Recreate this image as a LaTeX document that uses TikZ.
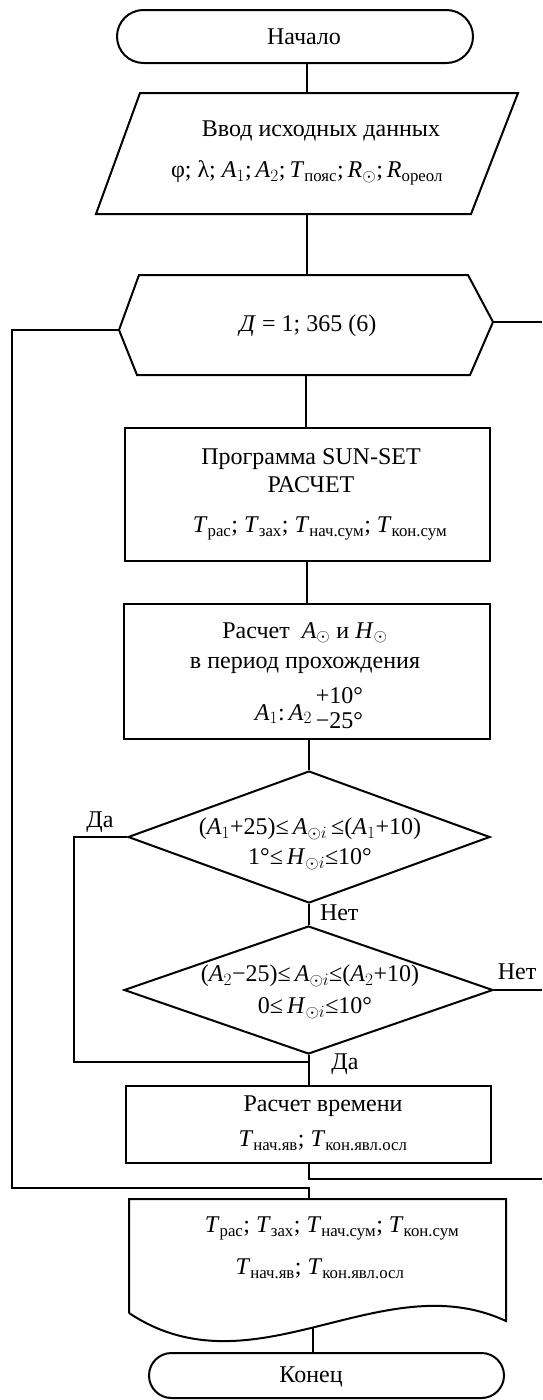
\documentclass[tikz,border=0pt]{standalone}
\usepackage{amsmath}
\usepackage{fontspec}
\setmainfont{Liberation Serif}
\usetikzlibrary{shapes.geometric}
\newcommand\Tsub[1]{\textit{T}$_{\text{#1}}$}
\newcommand\Ai[1]{\textit{A}$_{#1}$}
\newcommand\Osun{$_{\odot}$}
\newcommand\Oi{$_{\odot i}$}
\begin{document}
\begin{tikzpicture}[x=1pt,y=-1pt,line width=2pt,
  shapebox/.style={draw,rectangle,inner sep=0pt},
  ghost/.style={rectangle,inner sep=0pt},
  txt/.style={align=center,inner sep=0pt,font=\fontsize{24}{28}\selectfont},
  lbl/.style={inner sep=0pt,font=\fontsize{24}{28}\selectfont}]
\fill[white] (0,0) rectangle (542,1400);
\useasboundingbox (0,0) rectangle (542,1400);

% start
\node[shapebox,rounded corners=26.5pt,minimum width=356pt,minimum height=53pt] (start) at (295,36.5) {};
\node[txt] (tstart) at (304,37) {Начало};

% input
\node[ghost,minimum width=420pt,minimum height=119pt] (input) at (307,153.5) {};
\draw (input.south west) -- ([xshift=44pt]input.north west) -- (input.north east) -- ([xshift=-47pt]input.south east) -- cycle;
\node[txt] (tinput) at (307,153) {\hspace*{28pt}Ввод исходных данных\\[13pt]
  φ;\ λ; \Ai{1};\,\Ai{2};\,\Tsub{пояс};\,\textit{R}\Osun;\,\textit{R}$_{\text{ореол}}$};

% loop hexagon
\node[ghost,minimum width=372pt,minimum height=98pt] (hex) at (306,325) {};
\draw ([yshift=-5pt]hex.west) -- ([xshift=20pt]hex.north west) -- ([xshift=-25pt]hex.north east) -- ([yshift=3pt]hex.east) -- ([xshift=-23pt]hex.south east) -- ([xshift=18pt]hex.south west) -- cycle;
\node[txt] (thex) at (308,326) {\textit{Д} = 1; 365 (6)};

% box1
\node[shapebox,minimum width=365pt,minimum height=133pt] (box1) at (307,494.5) {};
\node[txt] (tbox1) at (311,494) {Программа SUN-SET\\ РАСЧЕТ\\[12pt]
  \hspace*{18pt}\Tsub{рас}; \Tsub{зах}; \Tsub{нач.сум}; \Tsub{кон.сум}};

% box2
\node[shapebox,minimum width=366pt,minimum height=135pt] (box2) at (307,671.5) {};
\node[txt,anchor=base] (tbox2a) at (305,638) {Расчет\ \ \textit{A}\Osun{} и \textit{H}\Osun};
\node[txt,anchor=base] (tbox2b) at (305,668) {в период прохождения};
\node[txt,anchor=base] (tbox2c) at (309,720) {\Ai{1}:\,\Ai{2}\,\raisebox{-8pt}{\begin{tabular}[b]{@{}l@{}}+10°\\[-3pt]−25°\end{tabular}}};

% decision 1
\node[draw,diamond,inner sep=0pt,minimum width=362pt,minimum height=132pt] (d1) at (309,837) {};
\node[txt] (td1) at (310,844) {(\Ai{1}+25)≤\,\textit{A}\Oi\,≤(\Ai{1}+10)\\[2pt]
  1°≤\,\textit{H}\Oi≤10°};

% decision 2
\node[draw,diamond,inner sep=0pt,minimum width=369pt,minimum height=128pt] (d2) at (308.5,990) {};
\node[txt] (td2) at (310,992) {(\Ai{2}−25)≤\,\textit{A}\Oi≤(\Ai{2}+10)\\[4pt]
  \hspace*{10pt}0≤\,\textit{H}\Oi≤10°};

% box3
\node[shapebox,minimum width=365pt,minimum height=77pt] (box3) at (308.5,1124.5) {};
\node[txt] (tbox3) at (323,1123) {Расчет времени\\[7pt] \Tsub{нач.яв}; \Tsub{кон.явл.осл}};

% document
\node[ghost,minimum width=375pt,minimum height=117pt] (doc) at (317.5,1258.5) {};
\draw ([yshift=5pt]doc.south west) -- (doc.north west) -- (doc.north east) -- ([yshift=-3pt]doc.south east)
  .. controls +(-125,-58) and +(125,83) .. ([yshift=5pt]doc.south west) coordinate[pos=0.513] (docb);
\node[txt] (tdoc) at (326,1248) {\hspace*{12pt}\Tsub{рас}; \Tsub{зах}; \Tsub{нач.сум}; \Tsub{кон.сум}\\[14pt]
  \Tsub{нач.яв}; \Tsub{кон.явл.осл}\hspace*{12pt}};

% end
\node[shapebox,rounded corners=22.5pt,minimum width=355pt,minimum height=45pt] (endt) at (326.5,1375.5) {};
\node[txt] (tend) at (311,1377) {Конец};

% helper coordinates
\coordinate (retR) at (542,1179);
\coordinate (hexR) at ([yshift=3pt]hex.east);
\coordinate (hexL) at ([yshift=-5pt]hex.west);
\coordinate (loopL) at (12,1188);
\coordinate (daL) at (74,1062);

% connectors
\draw (start.south -| input.north) -- (input.north);
\draw (input.south) -- (input.south |- hex.north);
\draw (hex.south) -- (hex.south |- box1.north);
\draw (box1.south) -- (box1.south |- box2.north);
\draw (d1.north |- box2.south) -- (d1.north);
\draw (d1.south) -- (d1.south |- d2.north);
\draw (d2.south) -- (d2.south |- box3.north);
\draw (box3.south) |- (retR);
\draw (d2.east) -- (d2.east -| retR);
\draw (hexR) -- (hexR -| retR);
\draw (hexL) -| (loopL) -- (loopL -| box3.south) -- (box3.south |- doc.north);
\draw (d1.west) -| (daL) -- (daL -| d2.south);
\draw (docb) -- (docb |- endt.north);

% labels
\node[lbl] (lda1) at (100,822) {Да};
\node[lbl,anchor=west] (lnet1) at (319,913) {Нет};
\node[lbl] (lnet2) at (517,972) {Нет};
\node[lbl] (lda2) at (345,1064) {Да};
\end{tikzpicture}
\end{document}
